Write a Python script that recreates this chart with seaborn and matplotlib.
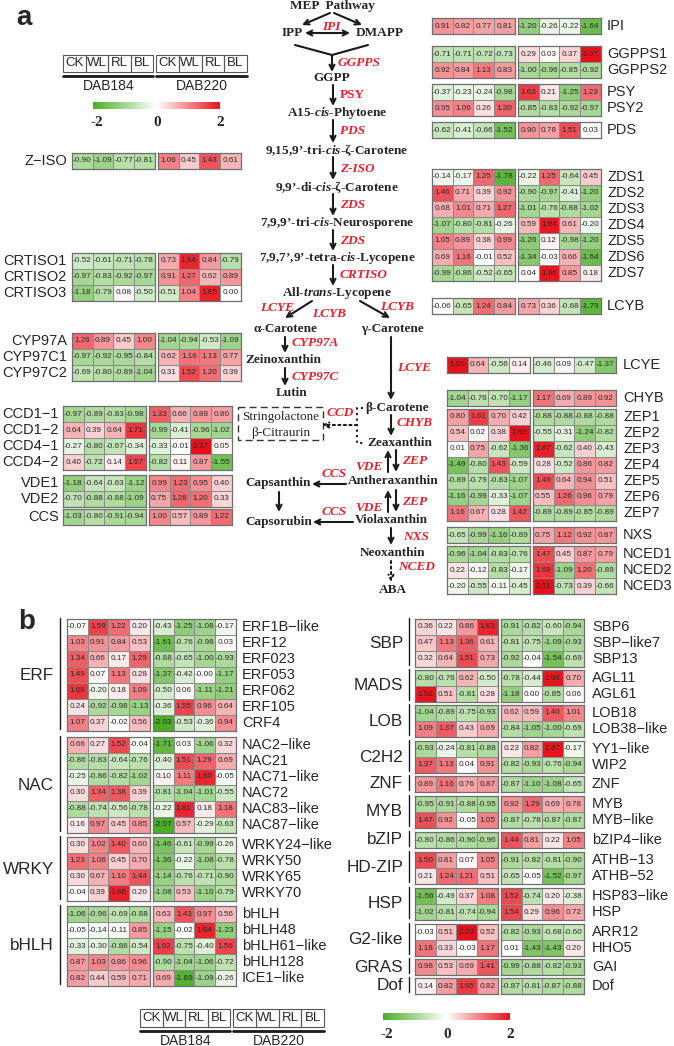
import numpy as np
import pandas as pd
import matplotlib
matplotlib.use("Agg")
import matplotlib.pyplot as plt
import seaborn as sns
from matplotlib import font_manager
from matplotlib.colors import LinearSegmentedColormap, Normalize
from matplotlib.patches import Rectangle
import matplotlib.cm as cm

# ---------------------------------------
# 1. Data (4 values DAB184 + 4 values DAB220 per gene)
# ---------------------------------------
conds = ["CK", "WL", "RL", "BL"]

ipi_genes = ["IPI"]
ipi_vals = [[0.91, 0.82, 0.77, 0.81, -1.20, -0.26, -0.22, -1.64]]
ggpps_genes = ["GGPPS1", "GGPPS2"]
ggpps_vals = [[-0.71, -0.71, -0.72, -0.73, 0.29, 0.03, 0.37, 2.07],
              [0.92, 0.84, 1.13, 0.83, -1.00, -0.96, -0.85, -0.92]]
psy_genes = ["PSY", "PSY2"]
psy_vals = [[-0.37, -0.23, -0.24, -0.98, 1.63, 0.21, -1.25, 1.23],
            [0.95, 1.06, 0.26, 1.30, -0.85, -0.83, -0.92, -0.97]]
pds_genes = ["PDS"]
pds_vals = [[-0.62, -0.41, -0.66, -1.52, 0.90, 0.78, 1.51, 0.03]]
zds_genes = ["ZDS1", "ZDS2", "ZDS3", "ZDS4", "ZDS5", "ZDS6", "ZDS7"]
zds_vals = [[-0.14, -0.17, 1.25, -1.78, -0.22, 1.25, -0.64, 0.45],
            [1.46, 0.71, 0.39, 0.92, -0.90, -0.97, -0.41, -1.20],
            [0.68, 1.01, 0.71, 1.27, -1.01, -0.76, -0.88, -1.02],
            [-1.07, -0.80, -0.81, -0.26, 0.59, 1.94, 0.61, -0.20],
            [1.05, 0.89, 0.38, 0.99, -1.26, 0.12, -0.98, -1.20],
            [0.69, 1.16, -0.01, 0.52, -1.34, -0.03, 0.66, -1.64],
            [-0.99, -0.86, -0.52, -0.65, 0.04, 1.96, 0.85, 0.18]]
lcyb_genes = ["LCYB"]
lcyb_vals = [[-0.06, -0.65, 1.24, 0.84, 0.73, 0.36, -0.68, -1.79]]
lcye_genes = ["LCYE"]
lcye_vals = [[1.99, 0.64, -0.56, 0.14, -0.46, 0.09, -0.47, -1.37]]
chyb_genes = ["CHYB"]
chyb_vals = [[-1.04, -0.76, -0.70, -1.17, 1.17, 0.69, 0.89, 0.92]]
zep_genes = ["ZEP1", "ZEP2", "ZEP3", "ZEP4", "ZEP5", "ZEP6", "ZEP7"]
zep_vals = [[0.80, 1.61, 0.70, 0.42, -0.88, -0.88, -0.88, -0.88],
            [0.54, 0.02, 0.38, 1.99, -0.55, -0.31, -1.24, -0.82],
            [0.01, 0.75, -0.62, -1.36, 1.87, -0.62, 0.40, -0.43],
            [-1.49, -0.80, 1.43, -0.59, 0.28, -0.52, 0.86, 0.82],
            [-0.89, -0.79, -0.83, -1.07, 1.49, 0.64, 0.94, 0.51],
            [-1.16, -0.99, -0.33, -1.07, 0.55, 1.26, 0.96, 0.79],
            [1.16, 0.67, 0.28, 1.42, -0.89, -0.89, -0.85, -0.89]]
nxs_genes = ["NXS"]
nxs_vals = [[-0.65, -0.99, -1.16, -0.89, 0.75, 1.12, 0.92, 0.87]]
nced_genes = ["NCED1", "NCED2", "NCED3"]
nced_vals = [[-0.96, -1.04, -0.83, -0.76, 1.47, 0.45, 0.87, 0.79],
             [0.22, -0.12, -0.83, -0.17, 1.68, -1.09, 1.20, -0.89],
             [-0.20, -0.55, -0.11, -0.45, 2.31, -0.73, 0.39, -0.66]]
ziso_genes = ["Z−ISO"]
ziso_vals = [[-0.90, -1.09, -0.77, -0.81, 1.06, 0.45, 1.43, 0.61]]
crtiso_genes = ["CRTISO1", "CRTISO2", "CRTISO3"]
crtiso_vals = [[-0.52, -0.61, -0.71, -0.78, 0.73, 1.84, 0.84, -0.79],
               [-0.97, -0.83, -0.92, -0.97, 0.91, 1.27, 0.62, 0.89],
               [-1.18, -0.79, 0.08, -0.50, -0.51, 1.04, 1.85, 0.00]]
cyp_genes = ["CYP97A", "CYP97C1", "CYP97C2"]
cyp_vals = [[1.26, 0.89, 0.45, 1.00, -1.04, -0.94, -0.53, -1.09],
            [-0.97, -0.92, -0.95, -0.84, 0.62, 1.16, 1.13, 0.77],
            [-0.69, -0.80, -0.89, -1.04, 0.31, 1.52, 1.20, 0.39]]
ccd_genes = ["CCD1−1", "CCD1−2", "CCD4−1", "CCD4−2"]
ccd_vals = [[-0.97, -0.89, -0.83, -0.98, 1.33, 0.66, 0.88, 0.80],
            [0.64, 0.39, 0.64, 1.71, -0.99, -0.41, -0.96, -1.02],
            [-0.27, -0.80, -0.67, -0.34, -0.33, -0.01, 2.37, 0.05],
            [0.40, -0.72, 0.14, 1.57, -0.82, 0.11, 0.87, -1.55]]
vde_genes = ["VDE1", "VDE2"]
vde_vals = [[-1.18, -0.64, -0.63, -1.12, 0.99, 1.23, 0.95, 0.40],
            [-0.70, -0.88, -0.88, -1.09, 0.75, 1.28, 1.20, 0.33]]
ccs_genes = ["CCS"]
ccs_vals = [[-1.03, -0.80, -0.91, -0.94, 1.00, 0.57, 0.89, 1.22]]

# panel b - transcription factors
erf_genes = ["ERF1B−like", "ERF12", "ERF023", "ERF053", "ERF062", "ERF105", "CRF4"]
erf_vals = [[-0.07, 1.59, 1.22, 0.20, -0.43, -1.25, -1.08, -0.17],
            [1.03, 0.91, 0.84, 0.53, -1.61, -0.76, -0.98, 0.03],
            [1.34, 0.66, 0.17, 1.29, -0.88, -0.65, -1.00, -0.93],
            [1.49, 0.07, 1.13, 0.28, -1.37, -0.42, -0.0, -1.17],
            [1.68, -0.20, 0.18, 1.09, -0.50, 0.06, -1.11, -1.21],
            [0.24, -0.92, -0.98, -1.13, -0.36, 1.55, 0.96, 0.64],
            [1.07, 0.37, -0.02, 0.56, -2.03, -0.53, -0.36, 0.94]]
nac_genes = ["NAC2−like", "NAC21", "NAC71−like", "NAC72", "NAC83−like", "NAC87−like"]
nac_vals = [[0.66, 0.27, 1.52, -0.04, -1.71, 0.03, -1.06, 0.32],
            [-0.86, -0.83, -0.64, -0.76, -0.40, 1.51, 1.29, 0.69],
            [-0.25, -0.86, -0.82, -1.02, 0.10, 1.11, 1.80, -0.05],
            [0.30, 1.34, 1.38, 0.39, -0.81, -1.04, -1.01, -0.55],
            [-0.88, -0.74, -0.56, -0.78, -0.22, 1.81, 0.18, 1.18],
            [0.16, 0.97, 0.45, 0.85, -2.07, 0.57, -0.29, -0.63]]
wrky_genes = ["WRKY24−like", "WRKY50", "WRKY65", "WRKY70"]
wrky_vals = [[0.30, 1.02, 1.40, 0.60, -1.46, -0.61, -0.99, -0.26],
             [1.23, 1.06, 0.45, 0.70, -1.36, -0.22, -1.08, -0.78],
             [0.30, 0.67, 1.10, 1.44, -1.14, -0.76, -0.71, -0.90],
             [-0.04, 0.39, 1.88, 0.20, -1.08, 0.53, -1.10, -0.79]]
bhlh_genes = ["bHLH", "bHLH48", "bHLH61−like", "bHLH128", "ICE1−like"]
bhlh_vals = [[-1.06, -0.96, -0.69, -0.88, 0.63, 1.43, 0.97, 0.56],
             [-0.05, -0.14, -0.11, 0.85, -1.15, -0.02, 1.84, -1.23],
             [-0.33, -0.30, -0.86, -0.54, 1.62, -0.75, -0.40, 1.56],
             [0.87, 1.03, 0.86, 0.96, -0.90, -1.04, -1.06, -0.72],
             [0.82, 0.44, 0.59, 0.71, 0.69, -1.89, -1.09, -0.26]]
sbp_genes = ["SBP6", "SBP−like7", "SBP13"]
sbp_vals = [[0.36, 0.22, 0.86, 1.83, -0.91, -0.82, -0.60, -0.94],
            [0.47, 1.13, 1.36, 0.61, -0.81, -0.75, -1.09, -0.93],
            [0.32, 0.64, 1.51, 0.73, -0.92, -0.04, -1.54, -0.69]]
mads_genes = ["AGL11", "AGL61"]
mads_vals = [[-0.80, -0.76, 0.62, -0.50, -0.78, -0.44, 1.96, 0.70],
             [1.98, 0.51, -0.81, 0.28, -1.18, 0.00, -0.85, 0.06]]
lob_genes = ["LOB18", "LOB38−like"]
lob_vals = [[-1.04, -0.89, -0.75, -0.93, 0.62, 0.59, 1.40, 1.01],
            [1.09, 1.37, 0.43, 0.69, -0.84, -1.05, -1.00, -0.69]]
c2h2_genes = ["YY1−like", "WIP2"]
c2h2_vals = [[-0.93, -0.24, -0.81, -0.88, 0.23, 0.82, 1.97, -0.17],
             [1.37, 1.13, 0.04, 0.91, -0.82, -0.93, -0.76, -0.94]]
znf_genes = ["ZNF"]
znf_vals = [[0.89, 1.16, 0.76, 0.87, -0.87, -1.10, -1.08, -0.65]]
myb_genes = ["MYB", "MYB−like"]
myb_vals = [[-0.95, -0.91, -0.88, -0.95, 0.92, 1.29, 0.69, 0.78],
            [1.47, 0.92, -0.05, 1.05, -0.87, -0.78, -0.87, -0.87]]
bzip_genes = ["bZIP4−like"]
bzip_vals = [[-0.80, -0.86, -0.90, -0.96, 1.44, 0.81, 0.22, 1.05]]
hdzip_genes = ["ATHB−13", "ATHB−52"]
hdzip_vals = [[1.50, 0.81, 0.07, 1.05, -0.91, -0.82, -0.81, -0.90],
              [0.21, 1.24, 1.21, 0.51, -0.65, -0.05, -1.52, -0.97]]
hsp_genes = ["HSP83−like", "HSP"]
hsp_vals = [[-1.56, -0.49, 0.37, 1.08, 1.52, -0.74, 0.20, -0.38],
            [-1.02, -0.81, -0.74, -0.94, 1.54, 0.29, 0.96, 0.72]]
g2_genes = ["ARR12", "HHO5"]
g2_vals = [[-0.03, 0.51, 2.03, 0.52, -0.82, -0.93, -0.68, -0.60],
           [1.18, 0.33, -0.03, 1.17, 0.01, -1.43, -1.43, 0.20]]
gras_genes = ["GAI"]
gras_vals = [[0.98, 0.53, 0.69, 1.41, -0.99, -0.88, -0.82, -0.93]]
dof_genes = ["Dof"]
dof_vals = [[0.14, 0.82, 1.65, 0.82, -0.87, -0.81, -0.87, -0.88]]

# ---------------------------------------
# 2. Style
# ---------------------------------------
sns.set_theme(style="white")
plt.rcParams["font.family"] = ["Liberation Sans", "DejaVu Sans"]
plt.rcParams["mathtext.fontset"] = "custom"
plt.rcParams["mathtext.rm"] = "Liberation Serif:bold"
plt.rcParams["mathtext.it"] = "Liberation Serif:italic:bold"

names = {f.name for f in font_manager.fontManager.ttflist}
if "Liberation Sans Narrow" in names:
    cell_font, cell_fs = "Liberation Sans Narrow", 6.5
else:
    cell_font, cell_fs = "Liberation Sans", 5.9

cmap = LinearSegmentedColormap.from_list("gwr", ["#4aad26", "#ffffff", "#e8111b"])
RED = "#e8202a"
SERIF = "Liberation Serif"

W, H = 674, 1046
CW, CH, GAP = 20.7, 16, 3

fig = plt.figure(figsize=(W / 100, H / 100), dpi=100)
ov = fig.add_axes([0, 0, 1, 1])
ov.set_xlim(0, W)
ov.set_ylim(H, 0)
ov.axis("off")


def px_axes(x, y, w, h):
    return fig.add_axes([x / W, 1 - (y + h) / H, w / W, h / H])


def block(x, y, genes, vals, lx, ha):
    arr = np.array(vals, dtype=float)
    for k in range(2):
        ax = px_axes(x + k * (4 * CW + GAP), y, 4 * CW, CH * len(genes))
        df = pd.DataFrame(arr[:, 4 * k:4 * k + 4], index=genes, columns=conds)
        sns.heatmap(df, ax=ax, cmap=cmap, vmin=-2, vmax=2, annot=True, fmt=".2f",
                    cbar=False, linewidths=0.5, linecolor="#8a8a8a",
                    xticklabels=False, yticklabels=False,
                    annot_kws=dict(fontsize=cell_fs, family=cell_font, color="#2b2b2b"))
        ax.set_xlabel("")
        ax.set_ylabel("")
        for s in ax.spines.values():
            s.set_visible(True)
            s.set_color("#6e6e6e")
            s.set_linewidth(0.9)
    for i, g in enumerate(genes):
        ov.text(lx, y + CH * (i + 0.5), g, ha=ha, va="center", fontsize=10.5)


def group(name, y, n, lx, linex):
    ov.text(lx, y + CH * n / 2, name, ha="right", va="center", fontsize=12.3)
    ov.plot([linex, linex], [y - 1, y + CH * n - 2], color="k", lw=1)


def header(x, y, cw=22.6, h=17):
    for k, lab in enumerate(["DAB184", "DAB220"]):
        x0 = x + k * (4 * cw + 3)
        for i, c in enumerate(conds):
            ov.add_patch(Rectangle((x0 + i * cw, y), cw, h, fill=False, ec="#555555", lw=0.8))
            ov.text(x0 + (i + 0.5) * cw, y + h / 2, c, ha="center", va="center", fontsize=9.5)
        ov.plot([x0, x0 + 4 * cw], [y + h + 4] * 2, color="k", lw=2)
        ov.text(x0 + 2 * cw, y + h + 14, lab, ha="center", va="center", fontsize=10)


def colorbar(x, y):
    cax = px_axes(x, y, 127, 7)
    cb = fig.colorbar(cm.ScalarMappable(norm=Normalize(-2, 2), cmap=cmap), cax=cax,
                      orientation="horizontal")
    cb.set_ticks([])
    cb.outline.set_visible(False)
    for v, xx in zip(["-2", "0", "2"], [x + 4, x + 64, x + 127]):
        ov.text(xx, y + 21, v, ha="center", va="center", fontsize=11,
                family=SERIF, weight="bold")


def arrow(p0, p1, style="->", ls="-"):
    ov.annotate("", xy=p1, xytext=p0,
                arrowprops=dict(arrowstyle=style, lw=1.5, color="k", ls=ls,
                                shrinkA=0, shrinkB=0, mutation_scale=9))


def comp(s, x, y, ha="center"):
    ov.text(x, y, s, ha=ha, va="center", fontsize=9.5, family=SERIF, weight="bold")


def enz(s, x, y, ha="left", italic=True):
    ov.text(x, y, s, ha=ha, va="center", fontsize=9.5, family=SERIF, weight="bold",
            style="italic" if italic else "normal", color=RED)


# ---------------------------------------
# 3. Panel a - heatmaps
# ---------------------------------------
ov.text(16, 18, "a", fontsize=20, weight="bold", ha="left", va="center")
header(63, 55)
colorbar(93, 102)

block(72, 153, ziso_genes, ziso_vals, 67, "right")
block(72, 253, crtiso_genes, crtiso_vals, 67, "right")
block(72, 333, cyp_genes, cyp_vals, 67, "right")
block(63, 406, ccd_genes, ccd_vals, 59, "right")
block(63, 475, vde_genes, vde_vals, 59, "right")
block(63, 509, ccs_genes, ccs_vals, 59, "right")

block(432, 18, ipi_genes, ipi_vals, 607, "left")
block(432, 46, ggpps_genes, ggpps_vals, 607, "left")
block(432, 84, psy_genes, psy_vals, 607, "left")
block(432, 122, pds_genes, pds_vals, 607, "left")
block(432, 169, zds_genes, zds_vals, 607, "left")
block(432, 298, lcyb_genes, lcyb_vals, 607, "left")
block(447, 357, lcye_genes, lcye_vals, 623, "left")
block(447, 390, chyb_genes, chyb_vals, 623, "left")
block(447, 409, zep_genes, zep_vals, 623, "left")
block(447, 527, nxs_genes, nxs_vals, 623, "left")
block(447, 546, nced_genes, nced_vals, 623, "left")

# ---------------------------------------
# 4. Panel a - pathway
# ---------------------------------------
comp("MEP  Pathway", 332, 6)
arrow((330, 13), (302, 25))
arrow((334, 13), (362, 25))
comp("IPP", 292, 33)
comp("DMAPP", 380, 33)
arrow((305, 33), (350, 33), style="<->")
enz("IPI", 331, 27, ha="center")
ov.plot([295, 332, 368], [45, 55, 45], color="k", lw=1.5)
arrow((332, 55), (332, 72))
enz("GGPPS", 338, 63)
comp("GGPP", 332, 78)

steps = [("A15-$\\mathit{cis}$-Phytoene", 113, "PSY"),
         ("9,15,9’-tri-$\\mathit{cis}$-ζ-Carotene", 150, "PDS"),
         ("9,9’-di-$\\mathit{cis}$-ζ-Carotene", 187, "Z-ISO"),
         ("7,9,9’-tri-$\\mathit{cis}$-Neurosporene", 223, "ZDS"),
         ("7,9,7’,9’-tetra-$\\mathit{cis}$-Lycopene", 258, "ZDS"),
         ("All-$\\mathit{trans}$-Lycopene", 293, "CRTISO")]
prev = 78
for s, yy, e in steps:
    arrow((333, prev + 7), (333, yy - 7))
    enz(e, 340, (prev + yy) / 2, italic=(e != "PSY"))
    comp(s, 337, yy)
    prev = yy

arrow((312, 301), (285, 318))
arrow((360, 301), (390, 318))
enz("LCYE", 260, 308)
enz("LCYB", 312, 314)
enz("LCYB", 380, 307)
comp("α-Carotene", 286, 329)
comp("γ-Carotene", 392, 329)
arrow((285, 337), (285, 353))
enz("CYP97A", 292, 343)
comp("Zeinoxanthin", 283, 360)
arrow((285, 368), (285, 386))
enz("CYP97C", 292, 377)
comp("Lutin", 292, 393)

arrow((391, 337), (391, 400))
enz("LCYE", 397, 368)
comp("β-Carotene", 365, 408, ha="left")
arrow((391, 415), (391, 436))
enz("CHYB", 397, 423)
comp("Zeaxanthin", 367, 443, ha="left")

ov.plot([363, 357, 357, 365], [408, 408, 443, 443], color="k", lw=1.5, ls=":")
arrow((357, 425), (322, 425), ls=":")
enz("CCD", 327, 413)
ov.add_patch(Rectangle((238, 407), 85, 33, fill=False, ec="#333333", lw=1.0, ls=(0, (5, 3))))
ov.text(281, 417, "Stringolactone", ha="center", va="center", fontsize=9.5, family=SERIF)
ov.text(281, 433, "β-Citraurin", ha="center", va="center", fontsize=9.5, family=SERIF)

arrow((388, 472), (388, 450))
arrow((396, 450), (396, 472))
enz("VDE", 383, 467, ha="right")
enz("ZEP", 402, 461)
comp("Antheraxanthin", 348, 481, ha="left")
arrow((346, 484), (312, 484))
enz("CCS", 322, 474)
comp("Capsanthin", 278, 483)
arrow((279, 492), (279, 512))
comp("Capsorubin", 279, 522)

arrow((388, 512), (388, 490))
arrow((396, 490), (396, 512))
enz("VDE", 383, 508, ha="right")
enz("ZEP", 402, 502)
comp("Violaxanthin", 355, 520, ha="left")
arrow((353, 522), (313, 522))
enz("CCS", 322, 512)
arrow((391, 528), (391, 545))
enz("NXS", 403, 537)
comp("Neoxanthin", 360, 553, ha="left")
arrow((391, 561), (391, 582), ls=":")
enz("NCED", 398, 567)
comp("ABA", 393, 590)

# ---------------------------------------
# 5. Panel b - transcription factors
# ---------------------------------------
ov.text(18, 622, "b", fontsize=20, weight="bold", ha="left", va="center")

left_groups = [("ERF", 619, erf_genes, erf_vals),
               ("NAC", 737, nac_genes, nac_vals),
               ("WRKY", 837, wrky_genes, wrky_vals),
               ("bHLH", 906, bhlh_genes, bhlh_vals)]
for name, yy, g, v in left_groups:
    block(67, yy, g, v, 242, "left")
    group(name, yy, len(g), 54, 60)

right_groups = [("SBP", 619, sbp_genes, sbp_vals),
                ("MADS", 670, mads_genes, mads_vals),
                ("LOB", 705, lob_genes, lob_vals),
                ("C2H2", 741, c2h2_genes, c2h2_vals),
                ("ZNF", 776, znf_genes, znf_vals),
                ("MYB", 796, myb_genes, myb_vals),
                ("bZIP", 832, bzip_genes, bzip_vals),
                ("HD-ZIP", 852, hdzip_genes, hdzip_vals),
                ("HSP", 888, hsp_genes, hsp_vals),
                ("G2-like", 924, g2_genes, g2_vals),
                ("GRAS", 959, gras_genes, gras_vals),
                ("Dof", 978, dof_genes, dof_vals)]
for name, yy, g, v in right_groups:
    block(415, yy, g, v, 592, "left")
    group(name, yy, len(g), 403, 409)

header(140, 1009, h=18)
colorbar(383, 1013)

fig.savefig("out.png", dpi=100)
